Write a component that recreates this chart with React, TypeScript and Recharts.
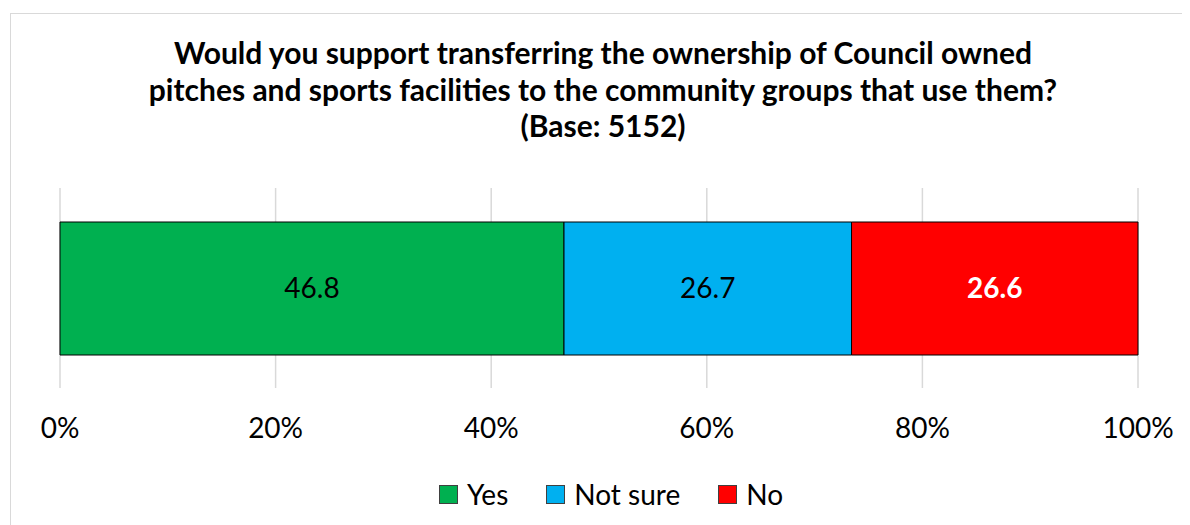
import { BarChart, Bar, XAxis, YAxis, CartesianGrid, LabelList } from 'recharts'

const titleLines = [
  'Would you support transferring the ownership of Council owned',
  'pitches and sports facilities to the community groups that use them?',
  '(Base: 5152)',
]

const category = 'All respondents'
const seriesKeys = ['yes', 'notSure', 'no']
const seriesNames = ['Yes', 'Not sure', 'No']
const seriesValues = [46.8, 26.7, 26.6]
const seriesColors = ['#00B050', '#00B0F0', '#FF0000']
const labelColors = ['#000000', '#000000', '#FFFFFF']
const labelWeights = [400, 400, 700]

const tickValues = [0, 0.2, 0.4, 0.6, 0.8, 1]
const tickLabels = ['0%', '20%', '40%', '60%', '80%', '100%']

const font = 'Lato, "Open Sans", sans-serif'

const row: Record<string, string | number> = { name: category }
seriesKeys.forEach((k, i) => {
  row[k] = seriesValues[i]
})
const data = [row]

function AxisTick({ x, y, payload }: any) {
  const idx = tickValues.indexOf(payload.value)
  return (
    <text x={x} y={y + 50} textAnchor="middle" fontFamily={font} fontSize={28} fill="#000">
      {tickLabels[idx] ?? `${Math.round(payload.value * 100)}%`}
    </text>
  )
}

export default function App() {
  return (
    <div style={{ position: 'relative', width: 1182, height: 517, overflow: 'hidden', background: '#fff' }}>
      <div
        style={{
          position: 'absolute',
          left: 2,
          top: 5,
          width: 1300,
          height: 700,
          border: '1.5px solid #d9d9d9',
          boxSizing: 'border-box',
        }}
      />
      <div
        style={{
          position: 'absolute',
          left: 0,
          top: 26,
          width: 1190,
          textAlign: 'center',
          fontFamily: font,
          fontWeight: 700,
          fontSize: 30,
          lineHeight: '36.5px',
          color: '#000',
        }}
      >
        {titleLines.map((t) => (
          <div key={t}>{t}</div>
        ))}
      </div>
      <div style={{ position: 'absolute', left: 0, top: 0 }}>
        <BarChart
          width={1182}
          height={517}
          data={data}
          layout="vertical"
          stackOffset="expand"
          margin={{ top: 180, right: 52, bottom: 77, left: 52 }}
          barSize={133}
        >
          <CartesianGrid horizontal={false} stroke="#d9d9d9" strokeWidth={1.5} />
          <XAxis
            type="number"
            domain={[0, 1]}
            ticks={tickValues}
            axisLine={false}
            tickLine={false}
            tickSize={0}
            tickMargin={0}
            height={60}
            tick={<AxisTick />}
          />
          <YAxis type="category" dataKey="name" hide />
          {seriesKeys.map((k, i) => (
            <Bar
              key={k}
              dataKey={k}
              name={seriesNames[i]}
              stackId="a"
              fill={seriesColors[i]}
              stroke="#000"
              strokeWidth={1}
              isAnimationActive={false}
            >
              <LabelList
                dataKey={k}
                position="center"
                fill={labelColors[i]}
                fontFamily={font}
                fontSize={28}
                fontWeight={labelWeights[i]}
                formatter={(v: any) => Number(v).toFixed(1)}
              />
            </Bar>
          ))}
        </BarChart>
      </div>
      <div
        style={{
          position: 'absolute',
          left: 0,
          top: 469,
          width: 1206,
          display: 'flex',
          justifyContent: 'center',
          gap: 38,
          fontFamily: font,
          fontSize: 28,
          color: '#000',
        }}
      >
        {seriesNames.map((n, i) => (
          <div key={n} style={{ display: 'flex', alignItems: 'center', gap: 9 }}>
            <span
              style={{
                display: 'inline-block',
                width: 17,
                height: 17,
                background: seriesColors[i],
                border: '1px solid #404040',
              }}
            />
            <span>{n}</span>
          </div>
        ))}
      </div>
    </div>
  )
}
